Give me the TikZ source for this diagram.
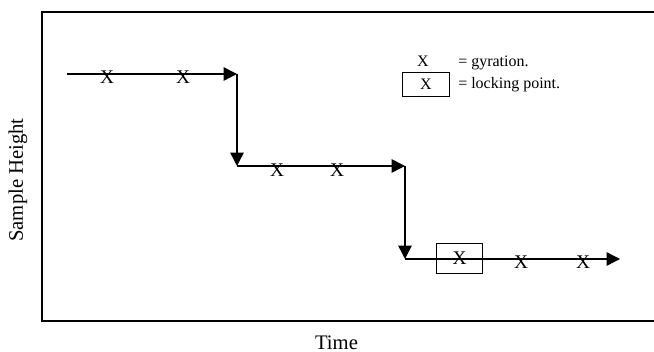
\documentclass[tikz,border=0pt]{standalone}
\usepackage{fontspec}
\setmainfont{Liberation Serif}
\usetikzlibrary{arrows.meta}

\begin{document}
\begin{tikzpicture}[
  x=0.75pt, y=-0.75pt,
  gyr/.style={inner sep=0pt, font=\fontsize{14.5}{16}\selectfont},
  lock/.style={draw, line width=0.9pt, inner sep=0pt, minimum width=35pt, minimum height=23pt, font=\fontsize{14.5}{16}\selectfont},
  keybox/.style={draw, line width=0.9pt, inner sep=0pt, minimum width=35pt, minimum height=17.5pt, font=\fontsize{12}{14}\selectfont},
  legend/.style={inner sep=0pt, font=\fontsize{12}{14}\selectfont},
  axislabel/.style={inner sep=0pt, font=\fontsize{15.5}{18}\selectfont},
  arrow/.style={-{Triangle[length=10pt, width=10pt]}, line width=1.1pt}
]
\useasboundingbox (0,0) rectangle (654,352);

% frame and axis labels
\draw[line width=1.1pt] (654,12) -- (42,12) -- (42,321) -- (654,321);
\node[axislabel, rotate=90] (ylab) at (18,180) {Sample Height};
\node[axislabel, anchor=base] (xlab) at (336.5,349.5) {Time};

% step path
\coordinate (s0) at (67,74);
\coordinate (s1) at (237,74);
\coordinate (s2) at (237,166);
\coordinate (s3) at (405,166);
\coordinate (s4) at (405,259);
\coordinate (s5) at (620,259);

\draw[arrow] (s0) -- (s1);
\draw[arrow] (s1) -- (s2);
\draw[arrow] (s2) -- (s3);
\draw[arrow] (s3) -- (s4);
\draw[arrow] (s4) -- (s5);

% gyrations
\node[gyr] (g1) at (107,77) {X};
\node[gyr] (g2) at (183,77) {X};
\node[gyr] (g3) at (277,170) {X};
\node[gyr] (g4) at (337,170) {X};
\node[lock] (lk) at (459.5,258.5) {X};
\node[gyr] (g6) at (521,262) {X};
\node[gyr] (g7) at (583,262) {X};

% legend
\node[legend, anchor=base] (kx) at (423,67) {X};
\node[legend, anchor=base west] (kxt) at (458,67) {= gyration.};
\node[keybox] (kb) at (426,84.5) {X};
\node[legend, anchor=base west] (kbt) at (458,89) {= locking point.};
\end{tikzpicture}
\end{document}
